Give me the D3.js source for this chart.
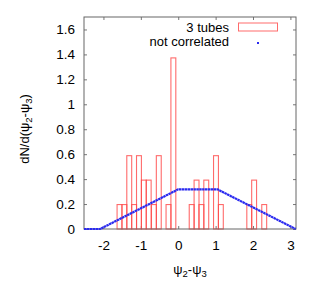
<!DOCTYPE html>
<html>
<head>
<meta charset="utf-8">
<script src="https://cdn.jsdelivr.net/npm/d3@7"></script>
<style>
  body { margin: 0; background: #fff; }
  text { font-family: "Liberation Sans", Arial, sans-serif; font-size: 13px; fill: #000; }
</style>
</head>
<body>
<div id="chart"></div>
<script>
// histogram "3 tubes": bin centres and heights
var binCenters = [-1.57, -1.44, -1.31, -1.18, -1.05, -0.92, -0.79, -0.65, -0.52, -0.26, -0.13,
                  0.36, 0.49, 0.62, 0.75, 1.01, 1.14,
                  1.90, 2.03, 2.30];
var binHeights = [0.196, 0.196, 0.588, 0.196, 0.588, 0.392, 0.392, 0.196, 0.588, 0.196, 1.372,
                  0.196, 0.392, 0.196, 0.392, 0.588, 0.196,
                  0.196, 0.392, 0.196];
var binWidth = 0.131;

// "not correlated" curve (corner points)
var ncX = [-2.52, -2.09, 0, 1.05, 3.14];
var ncY = [0, 0, 0.318, 0.318, 0];

var xTicks = [-2, -1, 0, 1, 2, 3];
var yTicks = [0, 0.2, 0.4, 0.6, 0.8, 1, 1.2, 1.4, 1.6];

var margin = {top: 17, right: 37, bottom: 65, left: 84},
    width = 333 - margin.left - margin.right,
    height = 294 - margin.top - margin.bottom;

var svg = d3.select("#chart").append("svg")
    .attr("width", 333)
    .attr("height", 294);

var g = svg.append("g")
    .attr("transform", "translate(" + margin.left + "," + margin.top + ")");

var x = d3.scaleLinear().domain([-2.52, 3.15]).range([0, width]);
var y = d3.scaleLinear().domain([0, 1.7]).range([height, 0]);

// axes, ticks inside, mirrored
var tickCol = "#777";
var xAxis = g.append("g")
    .attr("transform", "translate(0," + height + ")")
    .call(d3.axisBottom(x).tickValues(xTicks).tickSize(-3).tickPadding(11)
        .tickFormat(function(d) { return String(d); }));
var xTop = g.append("g")
    .call(d3.axisTop(x).tickValues(xTicks).tickSize(-3).tickFormat(""));
var yAxis = g.append("g")
    .call(d3.axisLeft(y).tickValues(yTicks).tickSize(-3).tickPadding(9)
        .tickFormat(d3.format("~g")));
var yRight = g.append("g")
    .attr("transform", "translate(" + width + ",0)")
    .call(d3.axisRight(y).tickValues(yTicks).tickSize(-3).tickFormat(""));

[xAxis, xTop, yAxis, yRight].forEach(function(a) {
    a.select(".domain").remove();
    a.selectAll("line").attr("stroke", tickCol);
    a.selectAll("text").style("font-size", "13.5px")
        .style("font-family", "'Liberation Sans', Arial, sans-serif");
});

// histogram bars
g.selectAll("rect.bar")
    .data(binCenters)
    .enter().append("rect")
    .attr("class", "bar")
    .attr("x", function(d) { return x(d - binWidth / 2); })
    .attr("width", function(d) { return x(d + binWidth / 2) - x(d - binWidth / 2); })
    .attr("y", function(d, i) { return y(binHeights[i]); })
    .attr("height", function(d, i) { return y(0) - y(binHeights[i]); })
    .attr("fill", "none")
    .attr("stroke", "rgb(255,70,70)")
    .attr("stroke-opacity", 0.8)
    .attr("stroke-width", 1.1);

// frame
g.append("rect")
    .attr("width", width)
    .attr("height", height)
    .attr("fill", "none")
    .attr("stroke", "#666")
    .attr("stroke-width", 1);

// not correlated line
var line = d3.line()
    .x(function(d) { return x(d); })
    .y(function(d, i) { return y(ncY[i]); });
g.append("path")
    .datum(ncX)
    .attr("d", line)
    .attr("fill", "none")
    .attr("stroke", "#2a2af0")
    .attr("stroke-width", 2.2)
    .attr("stroke-dasharray", "2.5,0.4");

// legend
svg.append("text").attr("x", 229).attr("y", 32).attr("text-anchor", "end").text("3 tubes");
svg.append("rect")
    .attr("x", 238.5).attr("y", 23)
    .attr("width", 39).attr("height", 8)
    .attr("fill", "none")
    .attr("stroke", "rgb(255,70,70)")
    .attr("stroke-opacity", 0.8);
svg.append("text").attr("x", 229).attr("y", 46).attr("text-anchor", "end").text("not correlated");
svg.append("rect")
    .attr("x", 257).attr("y", 42)
    .attr("width", 2).attr("height", 2)
    .attr("fill", "#2a2af0");

// axis titles
var xt = svg.append("text")
    .attr("x", 190).attr("y", 274)
    .attr("text-anchor", "middle");
xt.append("tspan").text("ψ");
xt.append("tspan").attr("dy", 3).style("font-size", "9.5px").text("2");
xt.append("tspan").attr("dy", -3).text("-ψ");
xt.append("tspan").attr("dy", 3).style("font-size", "9.5px").text("3");

var yt = svg.append("text")
    .attr("transform", "translate(29,129) rotate(-90)")
    .attr("text-anchor", "middle");
yt.append("tspan").text("dN/d(ψ");
yt.append("tspan").attr("dy", 3).style("font-size", "9.5px").text("2");
yt.append("tspan").attr("dy", -3).text("-ψ");
yt.append("tspan").attr("dy", 3).style("font-size", "9.5px").text("3");
yt.append("tspan").attr("dy", -3).text(")");
</script>
</body>
</html>
